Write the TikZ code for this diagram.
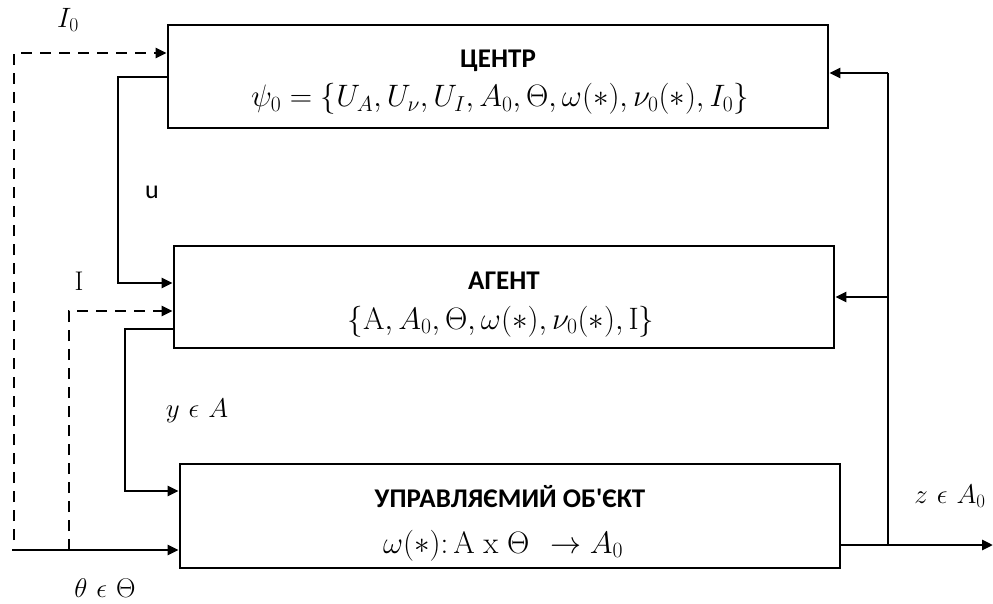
\RequirePackage{fix-cm}
\documentclass[tikz,border=0pt]{standalone}
\usepackage{fontspec}
\usepackage{amsmath}
\newfontfamily\titlefont{Carlito}
\usetikzlibrary{arrows.meta}
\begin{document}
\begin{tikzpicture}[x=1pt,y=-1pt,
  box/.style={draw, line width=2.8pt, minimum width=660pt, align=center, inner sep=0pt},
  conn/.style={line width=2.8pt, -{Triangle[length=11pt,width=10pt]}},
  plain/.style={line width=2.8pt},
  dconn/.style={line width=2.8pt, dash pattern=on 11pt off 8pt, -{Triangle[length=11pt,width=10pt]}},
  ttl/.style={font=\titlefont\bfseries\fontsize{27}{30}\selectfont, anchor=base, inner sep=0pt},
  fml/.style={font=\fontsize{31}{36}\selectfont, anchor=base, inner sep=0pt},
  lbl/.style={font=\fontsize{27}{30}\selectfont, inner sep=0pt}]
\useasboundingbox (0,0) rectangle (993,604);
% boxes
\node[box, minimum height=103pt] (C) at (498,76.5) {};
\node[ttl] (Ct) at (498,68) {ЦЕНТР};
\node[fml] (Cf) at (500,107) {$\psi_0=\{U_A,U_\nu,U_I,A_0,\Theta,\omega(\ast),\nu_0(\ast),I_0\}$};
\node[box, minimum height=102pt] (A) at (504,297) {};
\node[ttl] (At) at (504,289) {АГЕНТ};
\node[fml] (Af) at (501,329) {$\{\mathrm{A},A_0,\Theta,\omega(\ast),\nu_0(\ast),\mathrm{I}\}$};
\node[box, minimum height=104pt] (O) at (510,516) {};
\node[ttl] (Ot) at (510,507) {УПРАВЛЯЄМИЙ ОБ'ЄКТ};
\node[fml] (Of) at (503,553) {$\omega(\ast)\mathpunct{:}\mathrm{A}\mkern5mu\mathrm{x}\mkern5mu\Theta\mkern12mu{\rightarrow}\mkern5mu A_0$};
% right side
\coordinate (R1) at (888,73);
\coordinate (R2) at (888,297);
\coordinate (R3) at (888,545);
\coordinate (Out) at (993,545);
\draw[conn] (R1) -- (C.east |- R1);
\draw[conn] (R2) -- (A.east |- R2);
\draw[plain] (R1) -- (R3);
\draw[conn] (O.east |- R3) -- (Out);
% left side
\coordinate (U1) at (118,77);
\coordinate (U2) at (118,283);
\draw[conn] (C.west |- U1) -- (U1) -- (U2) -- (A.west |- U2);
\coordinate (D1) at (14,540);
\coordinate (D2) at (14,53);
\draw[dconn] (D1) -- (D2) -- (C.west |- D2);
\coordinate (E1) at (69,550);
\coordinate (E2) at (69,311);
\draw[dconn] (E1) -- (E2) -- (A.west |- E2);
\coordinate (Y1) at (125,329);
\coordinate (Y2) at (125,491);
\draw[conn] (A.west |- Y1) -- (Y1) -- (Y2) -- (O.west |- Y2);
\coordinate (T1) at (12,550);
\draw[conn] (T1) -- (O.west |- T1);
% labels
\node[lbl, font=\fontsize{28}{32}\selectfont] (lI0) at (68,20) {$I_0$};
\node[lbl, font=\titlefont\fontsize{26}{30}\selectfont] (lu) at (152,192) {u};
\node[lbl, font=\fontsize{27}{30}\selectfont] (lI) at (79,281) {I};
\node[lbl] (ly) at (197,411) {$y\mkern6mu\epsilon\mkern6mu A$};
\node[lbl] (lt) at (105,588) {$\theta\mkern6mu\epsilon\mkern6mu\Theta$};
\node[lbl] (lz) at (950,496) {$z\mkern6mu\epsilon\mkern6mu A_0$};
\end{tikzpicture}
\end{document}
